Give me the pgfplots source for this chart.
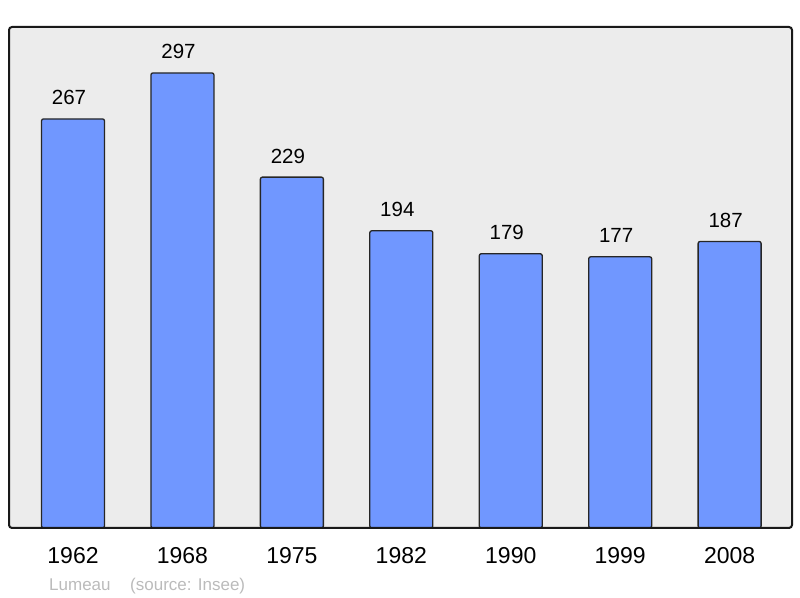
\documentclass[border=0pt]{standalone}
\usepackage{fontspec}
\setmainfont{Liberation Sans}
\usepackage{pgfplots}
\pgfplotsset{compat=1.18}

\definecolor{barblue}{HTML}{7097FF}
\definecolor{bggray}{HTML}{ECECEC}
\definecolor{notegray}{HTML}{BBBBBB}

\begin{document}
\begin{tikzpicture}
\begin{axis}[
    name=ax,
    at={(0pt,0pt)}, anchor=south west,
    scale only axis,
    width=783pt, height=501pt,
    xmin=-0.585, xmax=6.57,
    ymin=0, ymax=327,
    ybar, bar width=63pt,
    xtick=data,
    xticklabels={1962,1968,1975,1982,1990,1999,2008},
    ytick=\empty,
    major tick length=0pt,
    axis line style={draw=none},
    axis background/.style={fill=bggray},
    xticklabel style={font=\fontsize{23}{23}\selectfont, anchor=base, yshift=-36pt},
    /pgf/number format/assume math mode=true,
    nodes near coords,
    nodes near coords style={font=\fontsize{20.5}{20.5}\selectfont, anchor=base, yshift=14pt, xshift=-4pt},
    clip=false,
]
\addplot[fill=barblue, draw=black!85, line width=1.3pt, rounded corners=2pt]
  coordinates {(0,267) (1,297) (2,229) (3,194) (4,179) (5,177) (6,187)};
\draw[black!90, line width=2pt, rounded corners=3pt] (rel axis cs:0,0) rectangle (rel axis cs:1,1);
\coordinate (bl) at (rel axis cs:0,0);
\coordinate (tr) at (rel axis cs:1,1);
\end{axis}
\node[anchor=base west, text=notegray, inner sep=0pt, font=\fontsize{17}{17}\selectfont]
  at ([shift={(40pt,-63pt)}]bl) {Lumeau};
\node[anchor=base west, text=notegray, inner sep=0pt, font=\fontsize{17}{17}\selectfont]
  at ([shift={(121pt,-63pt)}]bl) {(source: Insee)};
\useasboundingbox ([shift={(-9pt,-70pt)}]bl) rectangle ([shift={(8pt,27pt)}]tr);
\end{tikzpicture}
\end{document}
